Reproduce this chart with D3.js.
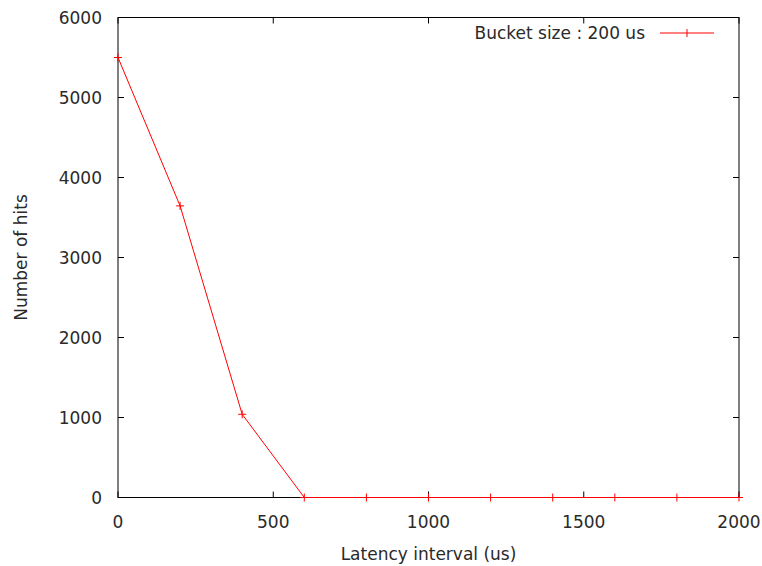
<!DOCTYPE html>
<html>
<head>
<meta charset="utf-8">
<script src="https://cdn.jsdelivr.net/npm/d3@7"></script>
<style>
  body { margin: 0; background: #fff; }
  svg text { font-family: "DejaVu Sans", sans-serif; fill: #2a2a2a; }
</style>
</head>
<body>
<div id="chart"></div>
<script>
const latency = [0, 200, 400, 600, 800, 1000, 1200, 1400, 1600, 1800, 2000];
const hits = [5500, 3645, 1040, 0, 0, 0, 0, 0, 0, 0, 0];
const xTicks = [0, 500, 1000, 1500, 2000];
const yTicks = [0, 1000, 2000, 3000, 4000, 5000, 6000];
const seriesName = "Bucket size : 200 us";

const width = 762, height = 566;
const margin = { left: 118, right: 23, top: 17.5, bottom: 68.5 };

const svg = d3.select("#chart").append("svg")
  .attr("width", width)
  .attr("height", height);

const x = d3.scaleLinear().domain([0, 2000]).range([margin.left, width - margin.right]);
const y = d3.scaleLinear().domain([0, 6000]).range([height - margin.bottom, margin.top]);

const fontSize = 17;

// ticks (inward, mirrored like gnuplot)
const g = svg.append("g").attr("stroke", "#000").attr("stroke-width", 1);
xTicks.forEach(t => {
  g.append("line").attr("x1", x(t)).attr("x2", x(t)).attr("y1", y(0)).attr("y2", y(0) - 6);
  g.append("line").attr("x1", x(t)).attr("x2", x(t)).attr("y1", y(6000)).attr("y2", y(6000) + 6);
});
yTicks.forEach(t => {
  g.append("line").attr("x1", x(0)).attr("x2", x(0) + 6).attr("y1", y(t)).attr("y2", y(t));
  g.append("line").attr("x1", x(2000)).attr("x2", x(2000) - 6).attr("y1", y(t)).attr("y2", y(t));
});

// frame
svg.append("rect")
  .attr("x", x(0)).attr("y", y(6000))
  .attr("width", x(2000) - x(0)).attr("height", y(0) - y(6000))
  .attr("fill", "none").attr("stroke", "#000").attr("stroke-width", 1);

// tick labels
svg.append("g").selectAll("text").data(xTicks).join("text")
  .attr("x", d => x(d)).attr("y", y(0) + 30)
  .attr("text-anchor", "middle").attr("font-size", fontSize)
  .text(d => d);
svg.append("g").selectAll("text").data(yTicks).join("text")
  .attr("x", x(0) - 16).attr("y", d => y(d) + 6.5)
  .attr("text-anchor", "end").attr("font-size", fontSize)
  .text(d => d);

// axis titles
svg.append("text")
  .attr("x", (x(0) + x(2000)) / 2).attr("y", 560)
  .attr("text-anchor", "middle").attr("font-size", fontSize)
  .text("Latency interval (us)");
svg.append("text")
  .attr("transform", `translate(27,${(y(0) + y(6000)) / 2}) rotate(-90)`)
  .attr("text-anchor", "middle").attr("font-size", fontSize)
  .text("Number of hits");

// series
const line = d3.line().x((d, i) => x(latency[i])).y(d => y(d));
svg.append("path")
  .datum(hits)
  .attr("d", line)
  .attr("fill", "none").attr("stroke", "#ff0000").attr("stroke-width", 1);

const pts = svg.append("g").attr("stroke", "#ff0000").attr("stroke-width", 1);
hits.forEach((v, i) => {
  const px = x(latency[i]), py = y(v);
  pts.append("line").attr("x1", px - 4).attr("x2", px + 4).attr("y1", py).attr("y2", py);
  pts.append("line").attr("x1", px).attr("x2", px).attr("y1", py - 4).attr("y2", py + 4);
});

// legend
const ly = 33;
svg.append("text")
  .attr("x", 645).attr("y", ly + 6)
  .attr("text-anchor", "end").attr("font-size", fontSize)
  .text(seriesName);
svg.append("line").attr("x1", 660).attr("x2", 714).attr("y1", ly).attr("y2", ly)
  .attr("stroke", "#ff0000").attr("stroke-width", 1);
svg.append("line").attr("x1", 687).attr("x2", 687).attr("y1", ly - 4).attr("y2", ly + 4)
  .attr("stroke", "#ff0000").attr("stroke-width", 1);
</script>
</body>
</html>
